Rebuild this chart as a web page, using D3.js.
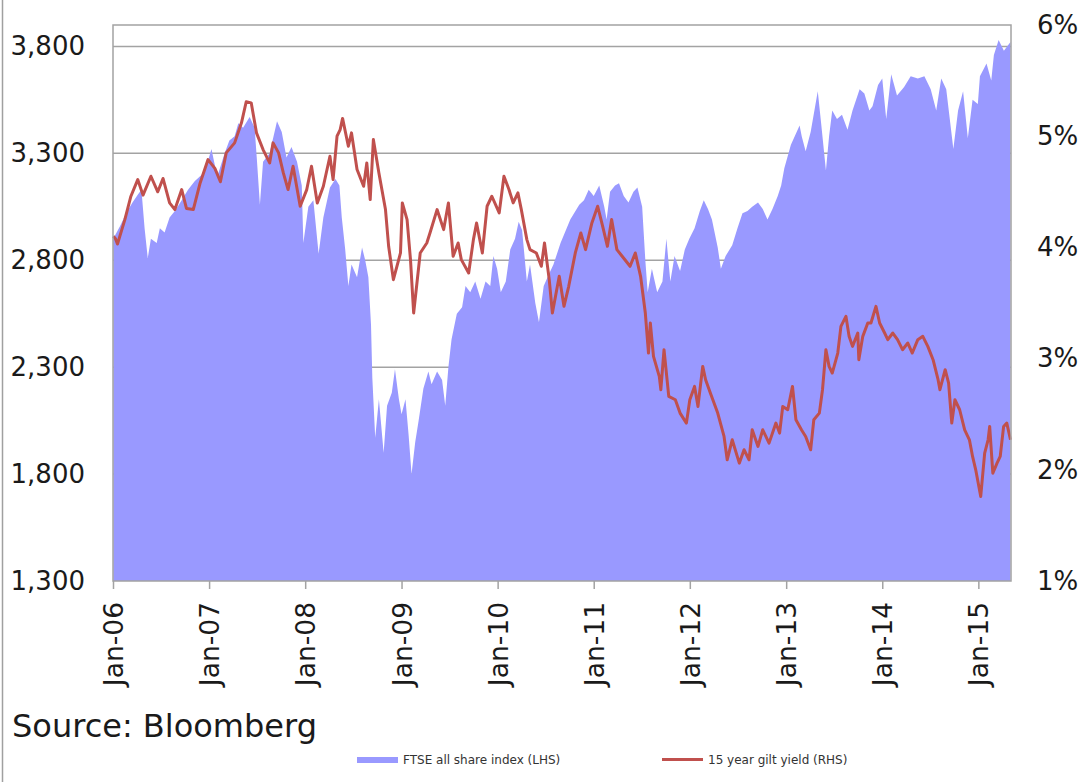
<!DOCTYPE html>
<html>
<head>
<meta charset="utf-8">
<script src="https://cdn.jsdelivr.net/npm/d3@7"></script>
<style>
  html, body { margin: 0; padding: 0; background: #fff; }
  svg { display: block; font-family: "DejaVu Sans", Verdana, sans-serif; }
</style>
</head>
<body>
<svg id="chart" width="1087" height="782"></svg>
<script>
// ---------------- DATA ----------------
const ftseDates = [
"2006-01-02","2006-01-28","2006-02-20","2006-03-16","2006-04-07","2006-04-19","2006-05-01","2006-05-13","2006-05-25","2006-06-16",
"2006-06-28","2006-07-16","2006-08-04","2006-08-24","2006-09-19","2006-10-13","2006-11-08","2006-12-04","2006-12-22","2007-01-10",
"2007-02-01","2007-03-01","2007-03-19","2007-04-08","2007-04-22","2007-05-10","2007-06-04","2007-06-23","2007-07-01","2007-07-13",
"2007-07-25","2007-08-19","2007-09-16","2007-10-04","2007-10-22","2007-11-10","2007-12-01","2007-12-19","2007-12-25","2008-01-13",
"2008-02-01","2008-02-21","2008-03-10","2008-04-04","2008-04-25","2008-05-10","2008-05-19","2008-06-01","2008-06-13","2008-06-25",
"2008-07-16","2008-08-04","2008-08-16","2008-08-28","2008-09-07","2008-09-12","2008-09-23","2008-10-07","2008-10-25","2008-11-07",
"2008-11-25","2008-12-07","2008-12-22","2009-01-01","2009-01-16","2009-01-28","2009-02-08","2009-02-22","2009-03-07","2009-03-25",
"2009-04-13","2009-04-25","2009-05-16","2009-06-04","2009-06-16","2009-06-28","2009-07-10","2009-07-30","2009-08-19","2009-09-01",
"2009-09-19","2009-10-08","2009-10-28","2009-11-16","2009-12-04","2009-12-16","2009-12-30","2010-01-13","2010-02-01","2010-02-18",
"2010-03-08","2010-03-22","2010-04-04","2010-04-22","2010-05-04","2010-05-24","2010-06-07","2010-06-25","2010-07-13","2010-08-01",
"2010-08-28","2010-10-04","2010-11-07","2010-11-25","2010-12-13","2011-01-01","2011-01-22","2011-02-10","2011-02-19","2011-03-04",
"2011-03-23","2011-04-07","2011-04-25","2011-05-13","2011-06-01","2011-06-16","2011-07-04","2011-07-16","2011-07-25","2011-08-10",
"2011-08-30","2011-09-19","2011-10-04","2011-10-19","2011-11-04","2011-11-25","2011-12-13","2011-12-30","2012-01-19","2012-02-08",
"2012-02-23","2012-03-10","2012-03-25","2012-04-16","2012-04-28","2012-05-16","2012-06-10","2012-06-30","2012-07-19","2012-08-07",
"2012-08-25","2012-09-16","2012-10-04","2012-10-22","2012-11-10","2012-11-30","2012-12-13","2012-12-25","2013-01-19","2013-02-21",
"2013-03-01","2013-03-16","2013-04-04","2013-05-01","2013-05-13","2013-06-01","2013-06-13","2013-06-25","2013-07-13","2013-08-01",
"2013-08-22","2013-09-10","2013-10-07","2013-10-25","2013-11-13","2013-11-25","2013-12-16","2014-01-01","2014-01-16","2014-02-04",
"2014-02-26","2014-03-25","2014-04-19","2014-05-16","2014-06-10","2014-07-04","2014-07-25","2014-08-13","2014-09-01","2014-09-28",
"2014-10-16","2014-11-04","2014-11-22","2014-12-10","2014-12-30","2015-01-07","2015-02-01","2015-02-19","2015-03-01","2015-03-19",
"2015-04-08","2015-05-03"
];
const ftseValues = [
2900,2960,3020,3070,3110,3130,2950,2810,2900,2880,
2950,2930,3000,3030,3080,3130,3170,3200,3240,3320,
3190,3300,3360,3380,3440,3420,3470,3420,3280,3060,
3260,3300,3450,3400,3280,3330,3260,3150,2880,3050,
3080,2830,3000,3140,3180,3150,3000,2850,2680,2780,
2720,2860,2800,2720,2500,2250,1970,2150,1900,2120,
2180,2290,2150,2080,2150,1980,1800,1950,2050,2200,
2280,2220,2280,2240,2120,2300,2430,2550,2580,2680,
2650,2700,2620,2700,2680,2820,2760,2650,2700,2850,
2900,2980,2940,2700,2780,2600,2510,2680,2730,2780,
2880,2990,3060,3080,3130,3100,3150,3050,2990,3120,
3150,3160,3100,3070,3120,3140,3050,2800,2650,2760,
2650,2700,2900,2700,2820,2750,2850,2900,2950,3030,
3080,3040,2990,2860,2760,2820,2870,2950,3020,3030,
3050,3070,3040,2990,3040,3100,3150,3230,3340,3430,
3380,3310,3400,3590,3450,3220,3380,3500,3460,3480,
3410,3500,3600,3580,3500,3520,3620,3650,3460,3670,
3570,3610,3660,3650,3660,3600,3500,3650,3600,3320,
3500,3590,3370,3550,3530,3660,3720,3640,3760,3830,
3780,3820
];

const giltDates = [
"2006-01-02","2006-01-10","2006-01-18","2006-02-15","2006-03-10","2006-04-05","2006-04-25","2006-05-25","2006-06-20","2006-07-10",
"2006-08-04","2006-08-24","2006-09-19","2006-10-07","2006-11-02","2006-11-28","2006-12-28","2007-01-23","2007-02-13","2007-03-07",
"2007-04-08","2007-05-04","2007-05-22","2007-06-10","2007-06-30","2007-07-25","2007-08-19","2007-09-01","2007-09-22","2007-10-10",
"2007-10-28","2007-11-16","2007-12-13","2008-01-07","2008-01-25","2008-02-16","2008-03-10","2008-04-04","2008-04-16","2008-05-01",
"2008-05-13","2008-05-22","2008-06-13","2008-06-25","2008-07-16","2008-08-10","2008-08-22","2008-09-04","2008-09-16","2008-10-07",
"2008-11-01","2008-11-13","2008-12-01","2008-12-28","2009-01-04","2009-01-22","2009-02-04","2009-02-16","2009-03-13","2009-04-07",
"2009-04-19","2009-05-16","2009-06-10","2009-06-28","2009-07-16","2009-08-04","2009-08-16","2009-09-13","2009-10-01","2009-10-13",
"2009-11-04","2009-11-22","2009-12-10","2010-01-07","2010-01-25","2010-02-13","2010-03-01","2010-03-19","2010-04-01","2010-04-22",
"2010-05-04","2010-05-28","2010-06-16","2010-06-28","2010-07-16","2010-07-28","2010-08-23","2010-09-10","2010-09-28","2010-10-23",
"2010-11-13","2010-12-01","2010-12-25","2011-01-16","2011-02-04","2011-02-22","2011-03-10","2011-03-30","2011-04-19","2011-05-19",
"2011-06-08","2011-06-28","2011-07-16","2011-07-28","2011-08-04","2011-08-16","2011-09-07","2011-09-13","2011-09-25","2011-10-13",
"2011-11-07","2011-11-25","2011-12-19","2012-01-01","2012-01-19","2012-02-01","2012-02-19","2012-03-01","2012-03-19","2012-04-16",
"2012-05-10","2012-05-22","2012-06-10","2012-07-07","2012-07-25","2012-08-13","2012-08-25","2012-09-16","2012-10-04","2012-10-28",
"2012-11-23","2012-12-07","2012-12-19","2013-01-07","2013-01-25","2013-02-07","2013-02-28","2013-03-16","2013-04-04","2013-04-16",
"2013-05-07","2013-05-19","2013-06-01","2013-06-13","2013-06-25","2013-07-16","2013-07-28","2013-08-16","2013-08-28","2013-09-10",
"2013-09-30","2013-10-04","2013-10-19","2013-11-07","2013-11-19","2013-12-08","2013-12-22","2014-01-10","2014-01-22","2014-02-10",
"2014-02-28","2014-03-19","2014-04-08","2014-04-25","2014-05-16","2014-06-04","2014-06-23","2014-07-13","2014-08-01","2014-08-08",
"2014-08-28","2014-09-10","2014-09-22","2014-10-04","2014-10-22","2014-11-10","2014-11-28","2014-12-10","2014-12-22","2015-01-10",
"2015-01-25","2015-02-07","2015-02-13","2015-02-25","2015-03-13","2015-03-25","2015-04-07","2015-04-19","2015-05-03"
];
const giltValues = [
4.10,4.08,4.03,4.25,4.46,4.61,4.47,4.64,4.50,4.62,
4.40,4.34,4.52,4.35,4.34,4.58,4.79,4.71,4.59,4.85,
4.94,5.12,5.31,5.30,5.03,4.88,4.76,4.94,4.85,4.67,
4.52,4.73,4.37,4.52,4.73,4.40,4.55,4.82,4.61,5.00,
5.06,5.16,4.91,5.03,4.70,4.55,4.76,4.43,4.97,4.67,
4.34,4.01,3.71,3.95,4.40,4.25,3.89,3.41,3.95,4.04,
4.13,4.34,4.16,4.40,3.92,4.04,3.89,3.77,4.07,4.22,
3.95,4.37,4.46,4.31,4.64,4.52,4.40,4.49,4.34,4.07,
3.98,3.95,3.83,4.04,3.71,3.41,3.74,3.47,3.65,3.95,
4.13,3.98,4.22,4.37,4.19,4.01,4.25,3.98,3.92,3.83,
3.95,3.74,3.41,3.05,3.32,3.02,2.84,2.72,3.08,2.66,
2.63,2.51,2.42,2.63,2.75,2.57,2.93,2.81,2.69,2.51,
2.30,2.09,2.27,2.06,2.18,2.09,2.36,2.21,2.36,2.24,
2.42,2.33,2.57,2.54,2.75,2.45,2.36,2.30,2.18,2.45,
2.51,2.72,3.08,2.93,2.87,3.05,3.29,3.38,3.20,3.11,
3.23,2.99,3.20,3.32,3.32,3.47,3.32,3.23,3.17,3.23,
3.17,3.08,3.14,3.05,3.17,3.20,3.11,2.99,2.81,2.72,
2.90,2.78,2.42,2.63,2.54,2.36,2.27,2.12,2.00,1.76,
2.15,2.27,2.39,1.97,2.06,2.12,2.39,2.42,2.27
];

const xTickDates = ["2006-01-01","2007-01-01","2008-01-01","2009-01-01","2010-01-01","2011-01-01","2012-01-01","2013-01-01","2014-01-01","2015-01-01"];
const leftTicks = [1300, 1800, 2300, 2800, 3300, 3800];
const rightTicks = [1, 2, 3, 4, 5, 6];
const seriesNames = ["FTSE all share index (LHS)", "15 year gilt yield (RHS)"];
const sourceText = "Source: Bloomberg";

// ---------------- CHART ----------------
const parse = d3.timeParse("%Y-%m-%d");
const ftse = ftseDates.map((d, i) => ({ date: parse(d), value: ftseValues[i] }));
const gilt = giltDates.map((d, i) => ({ date: parse(d), value: giltValues[i] }));

const L = 113, R = 1011, T = 25, B = 581;
const svg = d3.select("#chart");

const x = d3.scaleTime().domain([parse("2006-01-01"), parse("2015-05-05")]).range([L, R]);
const yL = d3.scaleLinear().domain([1300, 3900]).range([B, T]);
const yR = d3.scaleLinear().domain([1, 6]).range([B, T]);

const gridColor = "#a3a3a3";
const areaColor = "#9999ff";
const lineColor = "#c0504d";
const fontFam = "'DejaVu Sans', Verdana, sans-serif";

// outer frame left edge
svg.append("line").attr("x1", 2.5).attr("x2", 2.5).attr("y1", 0).attr("y2", 782)
  .attr("stroke", "#a0a0a0").attr("stroke-width", 1.5);

// gridlines (behind area)
svg.append("g").selectAll("line").data(leftTicks.filter(v => v > 1300)).join("line")
  .attr("x1", L).attr("x2", R)
  .attr("y1", d => yL(d)).attr("y2", d => yL(d))
  .attr("stroke", gridColor).attr("stroke-width", 1.5);

// area
const area = d3.area().x(d => x(d.date)).y0(B).y1(d => yL(d.value));
svg.append("path").datum(ftse).attr("d", area).attr("fill", areaColor);

// line
const line = d3.line().x(d => x(d.date)).y(d => yR(d.value));
svg.append("path").datum(gilt).attr("d", line)
  .attr("fill", "none").attr("stroke", lineColor).attr("stroke-width", 3)
  .attr("stroke-linejoin", "round");

// plot border
svg.append("rect").attr("x", L).attr("y", T).attr("width", R - L).attr("height", B - T)
  .attr("fill", "none").attr("stroke", gridColor).attr("stroke-width", 1.5);

// axes
const xAxis = d3.axisBottom(x)
  .tickValues(xTickDates.map(parse))
  .tickFormat(d3.timeFormat("%b-%y"))
  .tickSize(8).tickSizeOuter(0);
const gx = svg.append("g").attr("transform", `translate(0,${B})`).call(xAxis);
gx.select(".domain").remove();
gx.selectAll(".tick line").attr("stroke", gridColor).attr("stroke-width", 1.5);
gx.selectAll(".tick text")
  .attr("transform", "rotate(-90)")
  .attr("text-anchor", "end")
  .attr("x", -21).attr("y", 0).attr("dy", "0.36em")
  .attr("font-size", 26.5).attr("fill", "#1a1a1a")
  .attr("font-family", fontFam);

const yAxisL = d3.axisLeft(yL).tickValues(leftTicks).tickFormat(d3.format(",")).tickSize(0).tickPadding(28);
const gl = svg.append("g").attr("transform", `translate(${L},0)`).call(yAxisL);
gl.select(".domain").remove();
gl.selectAll(".tick text").attr("font-size", 26).attr("fill", "#1a1a1a")
  .attr("font-family", fontFam);

const yAxisR = d3.axisRight(yR).tickValues(rightTicks).tickFormat(d => d + "%").tickSize(0).tickPadding(26);
const gr = svg.append("g").attr("transform", `translate(${R},0)`).call(yAxisR);
gr.select(".domain").remove();
gr.selectAll(".tick text").attr("font-size", 26).attr("fill", "#1a1a1a")
  .attr("font-family", fontFam);

// source
svg.append("text").attr("x", 12).attr("y", 737).attr("font-size", 32).attr("fill", "#1a1a1a")
  .text(sourceText);

// legend
const lg = svg.append("g").attr("font-size", 12).attr("fill", "#333");
lg.append("rect").attr("x", 357).attr("y", 757).attr("width", 41).attr("height", 6).attr("fill", areaColor);
lg.append("text").attr("x", 403).attr("y", 764).text(seriesNames[0]);
lg.append("line").attr("x1", 662).attr("x2", 703).attr("y1", 759.5).attr("y2", 759.5)
  .attr("stroke", lineColor).attr("stroke-width", 3);
lg.append("text").attr("x", 708).attr("y", 764).text(seriesNames[1]);
</script>
</body>
</html>
